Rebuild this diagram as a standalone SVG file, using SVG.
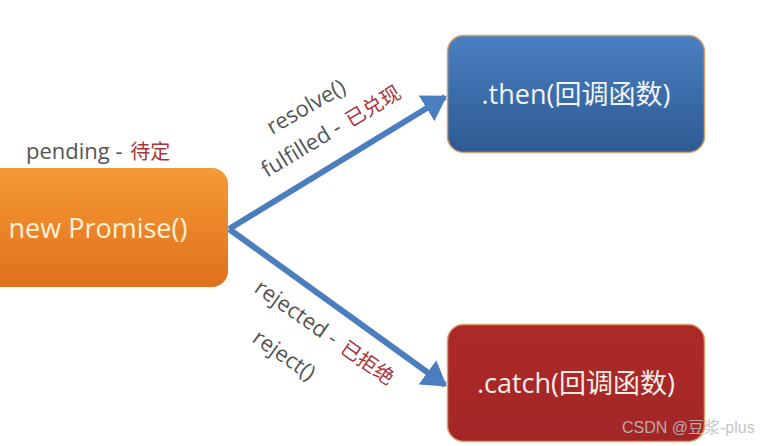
<svg xmlns="http://www.w3.org/2000/svg" width="772" height="446" viewBox="0 0 772 446">
<defs>
<linearGradient id="gOrange" x1="0" y1="0" x2="0" y2="1">
<stop offset="0" stop-color="#F69A36"/>
<stop offset="1" stop-color="#E0701C"/>
</linearGradient>
<linearGradient id="gBlue" x1="0" y1="0" x2="0" y2="1">
<stop offset="0" stop-color="#4A7FC1"/>
<stop offset="1" stop-color="#2D5A92"/>
</linearGradient>
<linearGradient id="gRed" x1="0" y1="0" x2="0" y2="1">
<stop offset="0" stop-color="#AC2A28"/>
<stop offset="1" stop-color="#A32626"/>
</linearGradient>
<marker id="arrow" markerWidth="5" markerHeight="5" refX="3.6" refY="2.5" orient="auto" markerUnits="strokeWidth">
<path d="M0,0 L4,2.5 L0,5 Z" fill="#4A7EBF"/>
</marker>
</defs>
<style>
.lbl{font-family:"Open Sans","Noto Sans","Noto Sans CJK SC",sans-serif;font-size:22px;fill:#555555}
.cn{fill:#A8343A;font-size:20px}
.node{font-family:"Open Sans","Noto Sans","Noto Sans CJK SC",sans-serif;font-size:27px;text-anchor:middle}
.conn{stroke:#4A7EBF;stroke-width:6;fill:none;marker-end:url(#arrow)}
</style>
<rect width="772" height="446" fill="#FFFFFF"/>
<g id="connectors">
<path class="conn" d="M229,229 L445,97"/>
<path class="conn" d="M229,229 L445,385"/>
</g>
<g id="node-promise">
<rect x="-20" y="168" width="248" height="119" rx="16" fill="url(#gOrange)"/>
<text class="node" x="98" y="238" fill="#FDF2D6">new Promise()</text>
<text class="lbl" x="26" y="159">pending - <tspan class="cn" dx="2">待定</tspan></text>
</g>
<g id="node-then">
<rect x="447.5" y="35.5" width="257" height="117" rx="16" fill="url(#gBlue)" stroke="#D9A070" stroke-width="1.5"/>
<text class="node" x="576" y="104" fill="#F2F4F8">.then(回调函数)</text>
</g>
<g id="node-catch">
<rect x="447.5" y="324.5" width="257" height="117" rx="16" fill="url(#gRed)" stroke="#D9A070" stroke-width="1.5"/>
<text class="node" x="576" y="393" fill="#F8EEE6">.catch(回调函数)</text>
</g>
<g id="labels">
<text class="lbl" transform="translate(272,135) rotate(-30)">resolve()</text>
<text class="lbl" transform="translate(267,178) rotate(-31)">fulfilled - <tspan class="cn" dx="3">已兑现</tspan></text>
<text class="lbl" transform="translate(253,291) rotate(35)">rejected - <tspan class="cn" dx="3">已拒绝</tspan></text>
<text class="lbl" transform="translate(251,341) rotate(35)">reject()</text>
</g>
<text x="622" y="433" font-family="'Liberation Sans','Noto Sans CJK SC',sans-serif" font-size="16" fill="#BDBDBD" fill-opacity="0.9">CSDN @豆浆-plus</text>
</svg>
